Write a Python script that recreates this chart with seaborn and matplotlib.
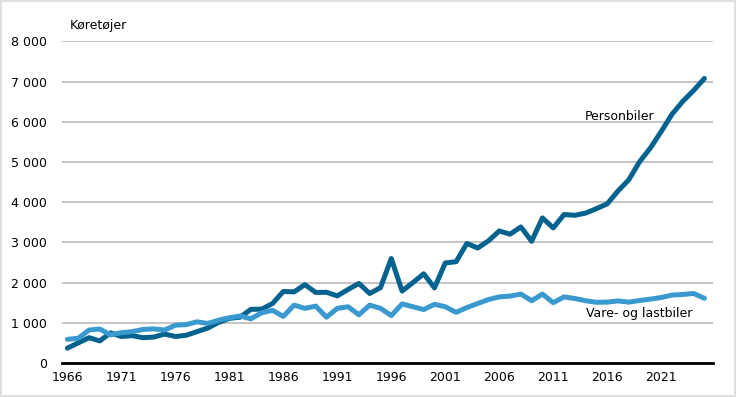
import seaborn as sns
import matplotlib.pyplot as plt
import pandas as pd

# year categories
years = list(range(1966, 2026))

personbiler = [370, 500, 630, 550, 750, 660, 680, 630, 645, 720,
               660, 690, 780, 870, 1010, 1110, 1140, 1335, 1340, 1480,
               1780, 1770, 1950, 1755, 1760, 1670, 1830, 1980, 1730, 1875,
               2600, 1790, 2000, 2220, 1870, 2490, 2520, 2975, 2860, 3040,
               3285, 3205, 3385, 3030, 3610, 3360, 3695, 3675, 3730, 3840,
               3960, 4280, 4560, 5010, 5350, 5760, 6190, 6510, 6780, 7080]

varebiler = [590, 615, 820, 845, 700, 755, 780, 835, 850, 820,
             940, 955, 1025, 985, 1065, 1125, 1170, 1100, 1250, 1310,
             1160, 1440, 1360, 1415, 1140, 1360, 1400, 1200, 1440, 1360,
             1180, 1470, 1400, 1330, 1460, 1400, 1260, 1380, 1480, 1580,
             1645, 1665, 1715, 1550, 1715, 1500, 1645, 1605, 1550, 1510,
             1515, 1545, 1515, 1555, 1590, 1630, 1690, 1705, 1730, 1610]

xticks = [1966, 1971, 1976, 1981, 1986, 1991, 1996, 2001, 2006, 2011, 2016, 2021]
yticks = [0, 1000, 2000, 3000, 4000, 5000, 6000, 7000, 8000]

df = pd.DataFrame({"aar": years * 2,
                   "antal": personbiler + varebiler,
                   "type": ["Personbiler"] * len(years) + ["Vare- og lastbiler"] * len(years)})

sns.set_style("white")
plt.rcParams['font.family'] = ['DejaVu Sans']
plt.rcParams['text.color'] = 'black'

fig = plt.figure(figsize=(7.36, 3.97), dpi=100)
fig.patch.set_edgecolor('#e0e0e0')
fig.patch.set_linewidth(1.5)
ax = fig.add_axes([0.0842, 0.0856, 0.8846, 0.81])

sns.lineplot(data=df, x="aar", y="antal", hue="type",
             palette={"Personbiler": "#04628f", "Vare- og lastbiler": "#3a9ad0"},
             linewidth=3.6, legend=False, ax=ax, zorder=3)
for l in ax.lines:
    l.set_solid_capstyle('round')
    l.set_solid_joinstyle('round')

ax.set_xlim(1965.5, 2025.8)
ax.set_ylim(0, 8000)
ax.set_xticks(xticks)
ax.set_yticks(yticks)
ax.set_yticklabels([f"{v:,}".replace(",", " ") for v in yticks])
ax.set_xlabel("")
ax.set_ylabel("")
ax.tick_params(axis='both', length=0, labelsize=9, colors='black')
ax.tick_params(axis='y', pad=11)
ax.tick_params(axis='x', pad=6)

ax.grid(axis='y', color='#c0c0c0', linewidth=1.3)
ax.grid(axis='x', visible=False)
for s in ['left', 'right', 'top']:
    ax.spines[s].set_visible(False)
ax.spines['bottom'].set_color('black')
ax.spines['bottom'].set_linewidth(2)
ax.spines['bottom'].set_zorder(4)

ax.text(1966.2, 8400, "Køretøjer", fontsize=9, ha='left', va='center', color='black')
ax.text(2017.1, 6140, "Personbiler", fontsize=9, ha='center', va='center', color='black')
ax.text(2019.0, 1220, "Vare- og lastbiler", fontsize=9, ha='center', va='center', color='black')

fig.savefig("out.png", dpi=100)
